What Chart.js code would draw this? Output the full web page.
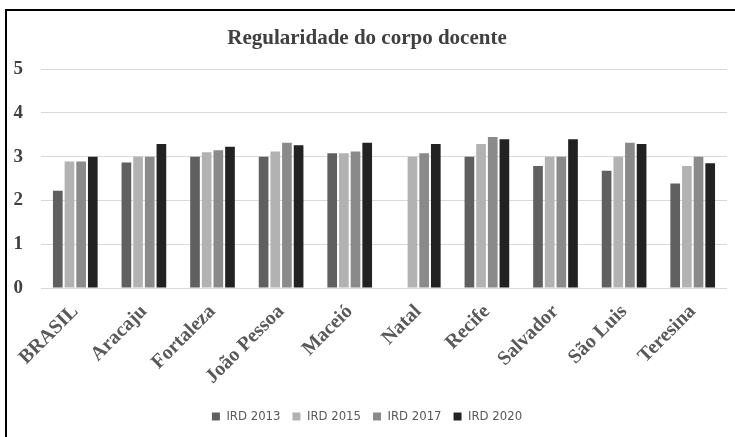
<!DOCTYPE html>
<html>
<head>
<meta charset="utf-8">
<script src="https://cdn.jsdelivr.net/npm/chart.js@4"></script>
<style>
  html, body { margin: 0; padding: 0; background: #fff; overflow: hidden; }
  .frame {
    position: absolute; left: 5px; top: 9px;
    width: 740px; height: 440px;
    border-left: 2px solid #000; border-top: 2px solid #000;
  }
  .box { position: absolute; left: 7px; top: 11px; width: 728px; height: 426px; }
</style>
</head>
<body>
<div class="frame"></div>
<div class="box"><canvas id="chart" width="728" height="426"></canvas></div>
<script>
const cities = ["BRASIL", "Aracaju", "Fortaleza", "João Pessoa", "Maceió", "Natal", "Recife", "Salvador", "São Luis", "Teresina"];
const ird2013 = [2.22, 2.87, 3.0, 3.0, 3.08, null, 3.0, 2.79, 2.68, 2.39];
const ird2015 = [2.89, 3.0, 3.1, 3.12, 3.08, 3.0, 3.29, 3.0, 3.0, 2.79];
const ird2017 = [2.89, 3.0, 3.15, 3.32, 3.12, 3.08, 3.45, 3.0, 3.32, 3.0];
const ird2020 = [3.0, 3.29, 3.23, 3.26, 3.32, 3.29, 3.40, 3.40, 3.29, 2.85];

const serif = "'Liberation Serif', 'Times New Roman', serif";
const narrow = "'Liberation Sans Narrow', 'DejaVu Sans Condensed', 'Arial Narrow', sans-serif";

new Chart(document.getElementById("chart"), {
  type: "bar",
  data: {
    labels: cities,
    datasets: [
      { label: "IRD 2013", data: ird2013, backgroundColor: "#606060" },
      { label: "IRD 2015", data: ird2015, backgroundColor: "#b2b2b2" },
      { label: "IRD 2017", data: ird2017, backgroundColor: "#8a8a8a" },
      { label: "IRD 2020", data: ird2020, backgroundColor: "#222222" },
    ],
  },
  options: {
    responsive: false,
    animation: false,
    datasets: { bar: { categoryPercentage: 0.68, barPercentage: 0.83 } },
    layout: { padding: { left: 0, right: 8, top: 4, bottom: 4 } },
    plugins: {
      title: {
        display: true,
        text: "Regularidade do corpo docente",
        color: "#404040",
        font: { family: serif, size: 21, weight: "bold" },
        padding: { top: 11, bottom: 18 },
      },
      legend: {
        position: "bottom",
        labels: {
          boxWidth: 8,
          boxHeight: 8,
          padding: 12,
          color: "#595959",
          font: { family: narrow, size: 13 },
        },
      },
      tooltip: { enabled: false },
    },
    scales: {
      x: {
        grid: { display: false },
        border: { display: false },
        afterFit: (scale) => { scale.height = 110; },
        ticks: {
          minRotation: 45,
          maxRotation: 45,
          padding: 4,
          color: "#595959",
          font: { family: serif, size: 20, weight: "bold" },
        },
      },
      y: {
        min: 0,
        max: 5,
        grid: { color: "#d9d9d9", drawTicks: false },
        border: { display: false },
        afterFit: (scale) => { scale.width = 34; },
        ticks: {
          stepSize: 1,
          padding: 18,
          color: "#404040",
          font: { family: serif, size: 19, weight: "bold" },
        },
      },
    },
  },
});
</script>
</body>
</html>
